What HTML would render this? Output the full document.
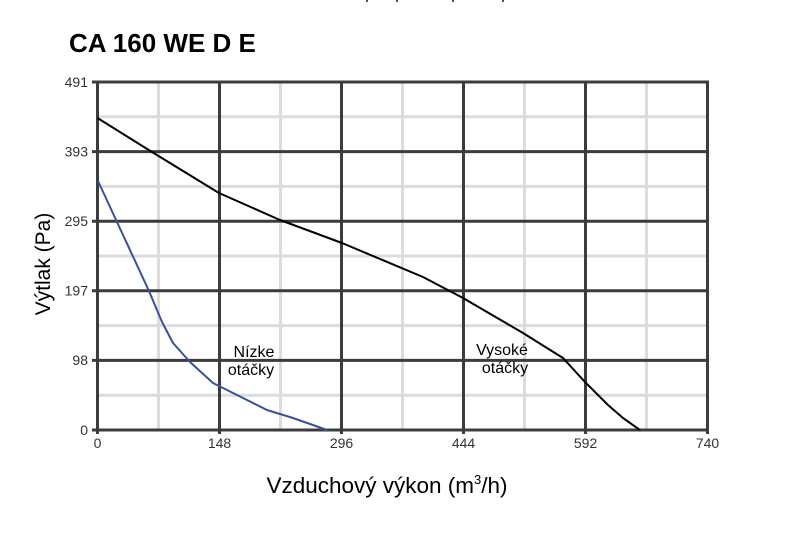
<!DOCTYPE html>
<html><head><meta charset="utf-8"><style>
html,body{margin:0;padding:0;background:#fff;}
svg{display:block;}
</style></head><body>
<svg width="796" height="539" viewBox="0 0 796 539" xmlns="http://www.w3.org/2000/svg">
<rect width="796" height="539" fill="#fff"/>
<!-- cut-off top marks -->
<g fill="#5a4a30">
<rect x="366" y="0" width="2" height="2"/><rect x="396" y="0" width="2" height="2"/>
<rect x="452" y="0" width="2" height="2"/><rect x="502" y="0" width="2" height="2"/>
</g>
<text x="69" y="52" font-family="Liberation Sans, Arial, sans-serif" font-size="26" font-weight="bold" fill="#000">CA 160 WE D E</text>
<!-- minor grid -->
<g stroke="#dcdcdc" stroke-width="3">
<line x1="158.5" y1="82" x2="158.5" y2="430"/>
<line x1="280.5" y1="82" x2="280.5" y2="430"/>
<line x1="402.5" y1="82" x2="402.5" y2="430"/>
<line x1="524.5" y1="82" x2="524.5" y2="430"/>
<line x1="646.5" y1="82" x2="646.5" y2="430"/>
<line x1="97.5" y1="116.8" x2="707.5" y2="116.8"/>
<line x1="97.5" y1="186.4" x2="707.5" y2="186.4"/>
<line x1="97.5" y1="256" x2="707.5" y2="256"/>
<line x1="97.5" y1="325.6" x2="707.5" y2="325.6"/>
<line x1="97.5" y1="395.2" x2="707.5" y2="395.2"/>
</g>
<!-- major grid -->
<g stroke="#3c3c3e" stroke-width="3">
<line x1="92" y1="82" x2="709" y2="82"/>
<line x1="92" y1="151.6" x2="709" y2="151.6"/>
<line x1="92" y1="221.2" x2="709" y2="221.2"/>
<line x1="92" y1="290.8" x2="709" y2="290.8"/>
<line x1="92" y1="360.4" x2="709" y2="360.4"/>
<line x1="92" y1="430" x2="709" y2="430"/>
<line x1="97.5" y1="81" x2="97.5" y2="434"/>
<line x1="219.5" y1="81" x2="219.5" y2="434"/>
<line x1="341.5" y1="81" x2="341.5" y2="434"/>
<line x1="463.5" y1="81" x2="463.5" y2="434"/>
<line x1="585.5" y1="81" x2="585.5" y2="434"/>
<line x1="707.5" y1="81" x2="707.5" y2="434"/>
</g>
<!-- curves -->
<polyline fill="none" stroke="#000" stroke-width="2" stroke-linejoin="round" points="97.5,118 152,152 219,193 280,220 342,243 423,277 463,298 523,333 563,358 585,382 608,405 623,418 640,430"/>
<polyline fill="none" stroke="#3a4fa0" stroke-width="2" stroke-linejoin="round" points="98,181 117,222 149,291 162,322 173,343 190,362 213,383 243,398 267,410 293,418 327,430"/>
<!-- tick labels -->
<g font-family="Liberation Sans, Arial, sans-serif" font-size="14" fill="#333" text-anchor="end">
<text x="88" y="87">491</text>
<text x="88" y="156.5">393</text>
<text x="88" y="226">295</text>
<text x="88" y="295.5">197</text>
<text x="88" y="365">98</text>
<text x="88" y="435">0</text>
</g>
<g font-family="Liberation Sans, Arial, sans-serif" font-size="14" fill="#333" text-anchor="middle">
<text x="97.5" y="448">0</text>
<text x="219.5" y="448">148</text>
<text x="341.5" y="448">296</text>
<text x="463.5" y="448">444</text>
<text x="585.5" y="448">592</text>
<text x="707.5" y="448">740</text>
</g>
<!-- annotations -->
<g font-family="Liberation Sans, Arial, sans-serif" font-size="16" fill="#000" text-anchor="middle">
<text x="254" y="357">Nízke</text>
<text x="251" y="375">otáčky</text>
<text x="502" y="355">Vysoké</text>
<text x="505" y="373">otáčky</text>
</g>
<!-- axis titles -->
<text x="387" y="493" font-family="Liberation Sans, Arial, sans-serif" font-size="22.5" fill="#000" text-anchor="middle">Vzduchový výkon (m<tspan font-size="13" dy="-9">3</tspan><tspan dy="9">/h)</tspan></text>
<text transform="translate(50,264) rotate(-90)" x="0" y="0" font-family="Liberation Sans, Arial, sans-serif" font-size="21" fill="#000" text-anchor="middle">Výtlak (Pa)</text>
</svg>
</body></html>
